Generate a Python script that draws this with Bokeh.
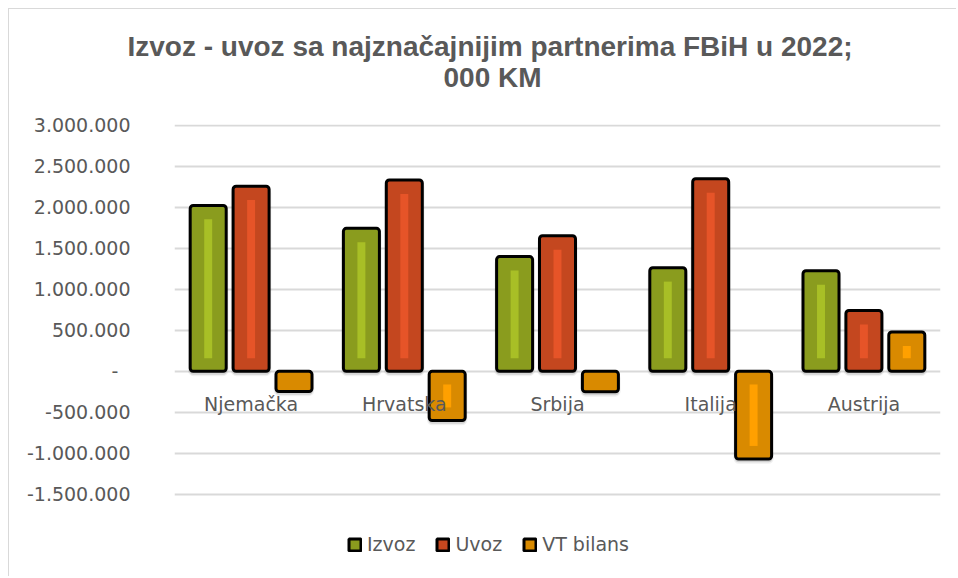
from bokeh.plotting import figure
from bokeh.models import (ColumnDataSource, FixedTicker, CustomJSTickFormatter, Legend,
                          LegendItem, Title, Range1d)
from bokeh.transform import dodge
from bokeh.core.properties import value
from bokeh.embed import file_html
from bokeh.resources import INLINE

categories = ["Njemačka", "Hrvatska", "Srbija", "Italija", "Austrija"]
izvoz = [2025000, 1745000, 1400000, 1265000, 1228000]
uvoz = [2260000, 2335000, 1655000, 2350000, 742000]
vt_bilans = [-245000, -600000, -250000, -1070000, 480000]
series_names = ["Izvoz", "Uvoz", "VT bilans"]
y_ticks = [-1500000, -1000000, -500000, 0, 500000, 1000000, 1500000, 2000000, 2500000, 3000000]
title_line1 = "Izvoz - uvoz sa najznačajnijim partnerima FBiH u 2022;"
title_line2 = "000 KM"

fills = ["#8a9c1e", "#c4471f", "#d98a00"]
stripes = ["#a8bf26", "#e65428", "#ffa000"]
offsets = [-0.28, 0.0, 0.28]
TEXT = "#595959"
FONT = "DejaVu Sans"

# the frame extends below the lowest tick so that the legend can sit inside it
p = figure(x_range=categories, y_range=Range1d(-2515000, 3012000),
           width=948, height=568, output_backend="svg", toolbar_location=None,
           title=None, min_border_left=165, min_border_right=17,
           min_border_top=115, min_border_bottom=0,
           outline_line_color=None, background_fill_color="white",
           border_fill_color="white")
p.styles = {"margin-left": "8px", "margin-top": "8px",
            "border-left": "1px solid #d9d9d9", "border-top": "1px solid #d9d9d9"}

spacer = Title(text=".", standoff=22, text_font_size="10px", text_color="white")
t2 = Title(text=title_line2, align="left", offset=269, standoff=0,
           text_font="Liberation Sans", text_font_size="28px", text_font_style="bold",
           text_color=TEXT)
t1 = Title(text=title_line1, align="left", offset=-47, standoff=-4,
           text_font="Liberation Sans", text_font_size="28px", text_font_style="bold",
           text_color=TEXT)
p.add_layout(spacer, "above")
p.add_layout(t2, "above")
p.add_layout(t1, "above")

p.xaxis.visible = False
p.xgrid.grid_line_color = None
p.ygrid.grid_line_color = "#d9d9d9"
p.ygrid.grid_line_width = 2
p.yaxis.ticker = FixedTicker(ticks=y_ticks)
p.yaxis.formatter = CustomJSTickFormatter(code="""
if (tick == 0) { return "-\\u00a0\\u00a0"; }
const s = Math.abs(tick).toFixed(0).replace(/\\B(?=(\\d{3})+(?!\\d))/g, ".");
return (tick < 0 ? "-" : "") + s;
""")
p.yaxis.axis_line_color = None
p.yaxis.major_tick_line_color = None
p.yaxis.minor_tick_line_color = None
p.yaxis.major_label_standoff = 38
p.yaxis.major_label_text_font = FONT
p.yaxis.major_label_text_font_size = "19px"
p.yaxis.major_label_text_color = TEXT

INSET_TOP = 170000
INSET_BASE = 160000
SHADOW_SHIFT = 40000

renderers = []
for vals, fill, stripe, off in zip([izvoz, uvoz, vt_bilans], fills, stripes, offsets):
    x = dodge("cat", off, range=p.x_range)
    shsrc = ColumnDataSource(dict(cat=categories,
                                  top=[max(v, 0) - SHADOW_SHIFT for v in vals],
                                  bottom=[min(v, 0) - SHADOW_SHIFT for v in vals]))
    p.vbar(x=x, top="top", bottom="bottom", width=0.245, source=shsrc,
           fill_color="black", fill_alpha=0.12, line_color="black", line_alpha=0.06,
           line_width=3, border_radius=4)
    src = ColumnDataSource(dict(cat=categories, top=vals, bottom=[0] * len(vals)))
    r = p.vbar(x=x, top="top", bottom="bottom",
               width=0.235, source=src, fill_color=fill, line_color="black",
               line_width=3, border_radius=3)
    renderers.append(r)
    sc, st, sb = [], [], []
    for c, v in zip(categories, vals):
        if abs(v) > 2 * INSET_BASE + 60000:
            sc.append(c)
            if v > 0:
                st.append(v - INSET_TOP)
                sb.append(INSET_BASE)
            else:
                st.append(-INSET_BASE)
                sb.append(v + INSET_BASE)
    ssrc = ColumnDataSource(dict(cat=sc, top=st, bottom=sb))
    p.vbar(x=x, top="top", bottom="bottom",
           width=0.052, source=ssrc, fill_color=stripe, line_color=None)

lsrc = ColumnDataSource(dict(cat=categories, y=[0] * len(categories)))
p.text(x="cat", y="y", text="cat", source=lsrc, text_align="center",
       text_baseline="middle", y_offset=33, text_font=value(FONT),
       text_font_size="19px", text_color=TEXT)

legend = Legend(items=[LegendItem(label=n, renderers=[r]) for n, r in zip(series_names, renderers)],
                orientation="horizontal", location=(173, 22), margin=0, padding=0,
                spacing=20, label_standoff=5, glyph_width=15, glyph_height=15,
                label_text_font=FONT, label_text_font_size="19px",
                label_text_color=TEXT, border_line_color=None,
                background_fill_alpha=0)
p.add_layout(legend, "center")

open("out.html", "w").write(file_html(p, INLINE))
